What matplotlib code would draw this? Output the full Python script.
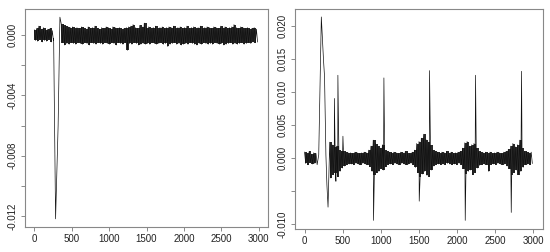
import matplotlib
matplotlib.use("Agg")
import matplotlib.pyplot as plt
import numpy as np

plt.rcParams["font.family"] = ["Liberation Sans", "DejaVu Sans"]

nan = np.nan
BIN = 30  # width of one noise bin (index units)

# ---- left panel: noise envelope per bin (x1e-3), dip drawn separately
L_HI = [0.35, 0.45, 0.60, 0.40, 0.50, 0.35, 0.40, 0.45, 0.30, nan, nan, nan,
        0.75, 0.70, 0.60, 0.55, 0.50, 0.55, 0.45, 0.50,
        0.45, 0.55, 0.50, 0.40, 0.55, 0.45, 0.50, 0.60, 0.45, 0.40,
        0.50, 0.45, 0.55, 0.50, 0.40, 0.55, 0.50, 0.45, 0.50, 0.40,
        0.45, 0.50, 0.55, 0.60, 0.70, 0.50, 0.45, 0.65, 0.55, 0.80,
        0.50, 0.55, 0.45, 0.50, 0.60, 0.45, 0.50, 0.55, 0.45, 0.50,
        0.55, 0.50, 0.60, 0.45, 0.50, 0.55, 0.45, 0.50, 0.60, 0.45,
        0.50, 0.55, 0.45, 0.50, 0.60, 0.45, 0.50, 0.55, 0.50, 0.45,
        0.55, 0.50, 0.45, 0.60, 0.50, 0.55, 0.45, 0.50, 0.55, 0.70,
        0.50, 0.45, 0.55, 0.50, 0.45, 0.50, 0.40, 0.45, 0.50, 0.40]
L_LO = [-0.35, -0.40, -0.30, -0.45, -0.35, -0.40, -0.30, -0.45, -0.35, nan, nan, nan,
        -0.50, -0.65, -0.55, -0.60, -0.50, -0.55, -0.60, -0.50,
        -0.55, -0.60, -0.50, -0.55, -0.65, -0.50, -0.55, -0.60, -0.50, -0.55,
        -0.60, -0.50, -0.55, -0.60, -0.50, -0.55, -0.65, -0.50, -0.55, -0.60,
        -0.50, -1.00, -0.55, -0.60, -0.50, -0.55, -0.65, -0.60, -0.55, -0.60,
        -0.55, -0.60, -0.50, -0.55, -0.60, -0.55, -0.50, -0.60, -0.55, -0.75,
        -0.60, -0.55, -0.50, -0.60, -0.55, -0.65, -0.60, -0.55, -0.60, -0.50,
        -0.55, -0.60, -0.65, -0.55, -0.60, -0.50, -0.55, -0.60, -0.55, -0.60,
        -0.50, -0.55, -0.60, -0.55, -0.65, -0.60, -0.55, -0.50, -0.60, -0.55,
        -0.60, -0.55, -0.50, -0.60, -0.55, -0.50, -0.55, -0.45, -0.50, -0.45]
L_SPK_X = [258, 284, 318, 342]
L_SPK_Y = [-0.2, -12.2, -6.0, 1.2]

# ---- right panel
R_HI = [0.9, 0.7, 1.0, 0.6, 0.8, 0.7, nan, nan, nan, nan, nan,
        2.4, 2.0, 1.6, 1.8, 1.2, 1.0, 1.1, 0.9, 0.8,
        0.8, 0.7, 0.9, 0.8, 0.7, 0.8, 0.9, 0.8, 1.2, 1.8,
        2.7, 2.2, 1.8, 1.5, 2.0, 1.2, 1.0, 0.9, 0.8, 0.9,
        0.8, 0.7, 0.9, 0.8, 1.0, 0.8, 0.7, 0.9, 1.2, 2.2,
        2.5, 3.0, 3.6, 2.8, 2.4, 2.0, 1.2, 1.0, 0.9, 0.8,
        0.9, 0.8, 1.0, 0.8, 0.9, 0.7, 0.8, 0.9, 1.0, 1.5,
        2.3, 2.5, 1.8, 2.0, 2.2, 1.5, 1.0, 0.9, 0.8, 0.9,
        0.8, 0.9, 0.7, 0.8, 0.9, 0.8, 0.7, 0.9, 1.0, 1.3,
        1.8, 2.2, 1.7, 2.0, 2.7, 1.5, 1.0, 0.9, 0.8, 0.9]
R_LO = [-0.8, -1.0, -0.7, -0.9, -0.8, -1.0, nan, nan, nan, nan, nan,
        -3.0, -2.5, -2.2, -2.8, -2.0, -1.5, -1.2, -1.0, -0.9,
        -0.9, -1.0, -0.8, -0.9, -1.0, -0.8, -0.9, -1.0, -1.3, -2.0,
        -2.6, -2.2, -2.0, -1.6, -1.8, -1.3, -1.0, -0.9, -1.0, -0.8,
        -0.9, -1.0, -0.8, -0.9, -1.0, -0.9, -0.8, -1.0, -1.4, -2.2,
        -2.8, -2.4, -2.0, -2.6, -2.8, -1.8, -1.2, -1.0, -0.9, -1.0,
        -0.9, -1.0, -0.8, -0.9, -1.0, -0.9, -1.0, -0.8, -1.0, -1.6,
        -2.4, -2.0, -1.8, -2.5, -2.2, -1.5, -1.1, -1.0, -0.9, -1.0,
        -2.0, -1.0, -0.9, -1.0, -0.8, -0.9, -1.0, -0.9, -1.2, -1.6,
        -2.5, -2.2, -1.8, -2.5, -2.0, -1.4, -1.0, -0.9, -1.0, -0.8]
R_SPK_X = [186, 220, 248, 262, 280, 293, 308,
           391, 411, 437, 503, 904, 1040, 1503, 1638, 2106, 2241, 2709, 2844]
R_SPK_Y = [0.5, 21.3, 14.9, 12.3, 0.5, -4.0, -7.4,
           9.0, -3.5, 12.5, 3.3, -9.4, 12.1, -6.5, 13.2, -9.4, 12.5, -8.2, 13.1]

X_TICKS = [0, 500, 1000, 1500, 2000, 2500, 3000]
L_YTICKS = [0.0, -0.002, -0.004, -0.006, -0.008, -0.010, -0.012]
L_YLABELS = ["0.000", "", "-0.004", "", "-0.008", "", "-0.012"]
R_YTICKS = [-0.010, -0.005, 0.0, 0.005, 0.010, 0.015, 0.020]
R_YLABELS = ["-0.010", "", "0.000", "0.005", "0.010", "0.015", "0.020"]


def trace(hi, lo, sx, sy):
    xs, ys = [], []
    for i, (h, l) in enumerate(zip(hi, lo)):
        if np.isnan(h):
            continue
        xs += [i * BIN, i * BIN + BIN / 2]
        ys += [h, l]
    xs += sx
    ys += sy
    order = np.argsort(xs, kind="stable")
    return np.array(xs)[order], np.array(ys)[order] * 1e-3


fig = plt.figure(figsize=(5.5, 2.52), dpi=100)
axl = fig.add_axes([25 / 550, 25 / 252, 243 / 550, 218 / 252])
axr = fig.add_axes([295 / 550, 23 / 252, 248 / 550, 220 / 252])

panels = [
    (axl, L_HI, L_LO, L_SPK_X, L_SPK_Y, (-0.01274, 0.00174), L_YTICKS, L_YLABELS),
    (axr, R_HI, R_LO, R_SPK_X, R_SPK_Y, (-0.0107, 0.0225), R_YTICKS, R_YLABELS),
]
for ax, hi, lo, sx, sy, ylim, yt, yl in panels:
    # dense noise band: stepped envelope, then the trace with spikes
    edges = np.arange(len(hi)) * BIN
    ax.fill_between(edges, np.array(lo) * 1e-3, np.array(hi) * 1e-3,
                    step="post", color="#2a2a2a", lw=0)
    x, y = trace(hi, lo, sx, sy)
    ax.plot(x, y, color="#111111", lw=0.5)
    ax.set_xlim(-125, 3125)
    ax.set_ylim(*ylim)
    ax.set_xticks(X_TICKS)
    ax.set_xticklabels([str(t) for t in X_TICKS], fontsize=7, color="#222222")
    ax.set_yticks(yt)
    ax.set_yticklabels(yl, fontsize=7, color="#222222", rotation=90, va="center")
    ax.tick_params(length=3, width=0.6, color="#777777", pad=2)
    for s in ax.spines.values():
        s.set_color("#888888")
        s.set_linewidth(0.8)

fig.savefig("out.png", dpi=100)
